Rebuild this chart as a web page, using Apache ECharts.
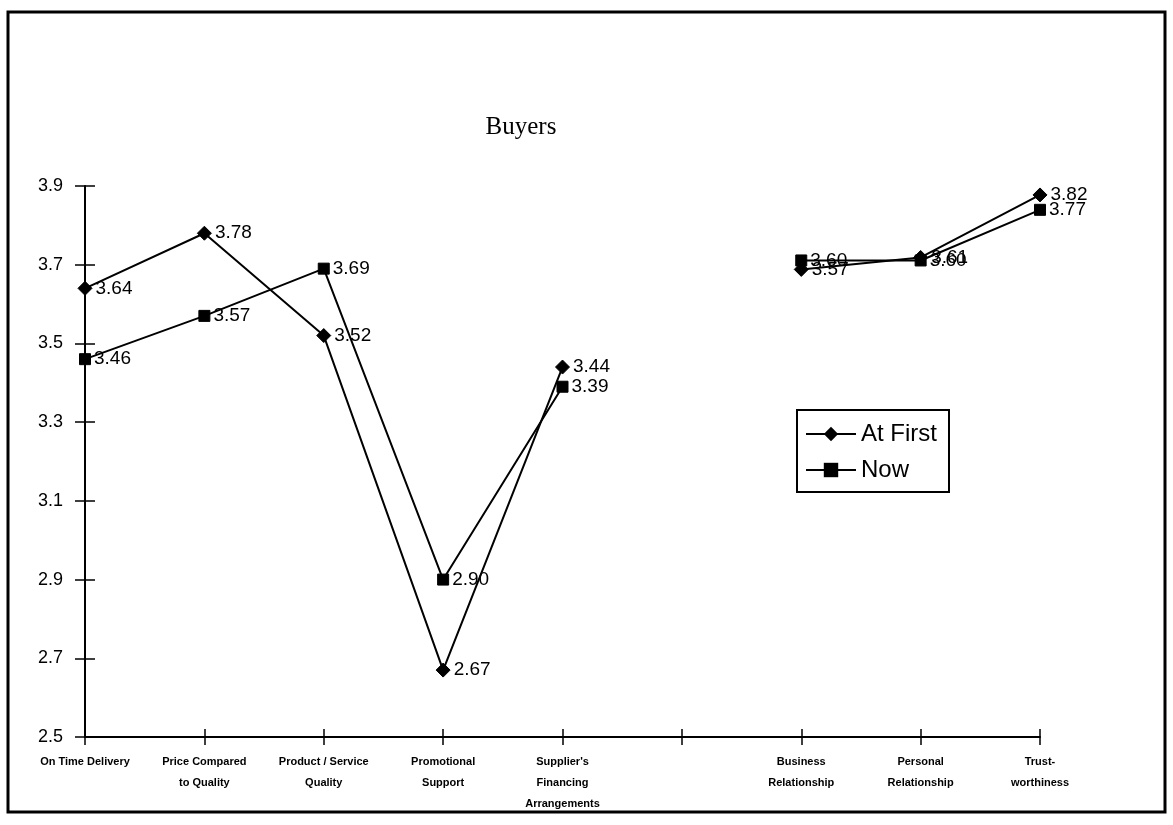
<!DOCTYPE html>
<html>
<head>
<meta charset="utf-8">
<script src="https://cdn.jsdelivr.net/npm/echarts@6/dist/echarts.min.js"></script>
<style>
  html, body { margin: 0; padding: 0; background: #fff; }
  #buyers-chart { width: 1173px; height: 825px; }
</style>
</head>
<body>
<div id="buyers-chart"></div>
<script>
// categories (the 6th slot is an empty gap between the two groups)
var categories = [
  "On Time Delivery",
  "Price Compared\nto Quality",
  "Product / Service\nQuality",
  "Promotional\nSupport",
  "Supplier's\nFinancing\nArrangements",
  "",
  "Business\nRelationship",
  "Personal\nRelationship",
  "Trust-\nworthiness"
];
// left group (primary axis)
var atFirstLeft = [3.64, 3.78, 3.52, 2.67, 3.44, null, null, null, null];
var nowLeft     = [3.46, 3.57, 3.69, 2.90, 3.39, null, null, null, null];
// right group (plotted on a separate, hidden scale in the original)
var atFirstRight = [null, null, null, null, null, null, 3.57, 3.61, 3.82];
var nowRight     = [null, null, null, null, null, null, 3.60, 3.60, 3.77];
var yTicks = { min: 2.5, max: 3.9, interval: 0.2 };

var chart = echarts.init(document.getElementById("buyers-chart"));

function lineSeries(name, data, symbol, size, yIndex) {
  return {
    name: name,
    type: "line",
    data: data,
    yAxisIndex: yIndex,
    symbol: symbol,
    symbolSize: size,
    connectNulls: false,
    animation: false,
    lineStyle: { color: "#000", width: 2 },
    itemStyle: { color: "#000", borderColor: "#000" },
    label: {
      show: true,
      position: "right",
      distance: 3,
      color: "#000",
      fontSize: 19,
      fontFamily: "Liberation Sans",
      formatter: function (p) { return p.value.toFixed(2); }
    }
  };
}

chart.setOption({
  backgroundColor: "#fff",
  animation: false,
  title: {
    text: "Buyers",
    left: 516,
    top: 110,
    textAlign: "center",
    textStyle: {
      color: "#000",
      fontFamily: "Liberation Serif",
      fontWeight: "normal",
      fontSize: 25
    }
  },
  graphic: [{
    type: "rect",
    shape: { x: 8, y: 12, width: 1157, height: 800 },
    style: { fill: null, stroke: "#000", lineWidth: 3 },
    silent: true
  }],
  legend: {
    data: ["At First", "Now"],
    orient: "vertical",
    left: 797,
    top: 410,
    padding: [12, 12, 10, 8],
    itemGap: 12,
    itemWidth: 50,
    itemHeight: 18,
    borderColor: "#000",
    borderWidth: 2,
    backgroundColor: "#fff",
    textStyle: { color: "#000", fontSize: 24, fontFamily: "Liberation Sans" }
  },
  grid: { left: 85, right: 133, top: 186, bottom: 88 },
  xAxis: [{
    type: "category",
    data: categories,
    boundaryGap: false,
    axisLine: { lineStyle: { color: "#000", width: 2 } },
    axisTick: { show: true, interval: 0, length: 8, lineStyle: { color: "#000", width: 1.5 } },
    axisLabel: {
      interval: 0,
      margin: 14,
      color: "#000",
      fontSize: 11,
      fontWeight: "bold",
      fontFamily: "Liberation Sans",
      lineHeight: 21
    },
    splitLine: { show: false }
  }, {
    type: "category",
    data: categories,
    boundaryGap: false,
    position: "bottom",
    axisLine: { show: false },
    axisTick: { show: true, inside: true, interval: 0, length: 8, lineStyle: { color: "#000", width: 1.5 } },
    axisLabel: { show: false },
    splitLine: { show: false }
  }],
  yAxis: [{
    type: "value",
    min: yTicks.min,
    max: yTicks.max,
    interval: yTicks.interval,
    axisLine: { show: true, lineStyle: { color: "#000", width: 2 } },
    axisTick: { show: true, length: 10, lineStyle: { color: "#000", width: 1.5 } },
    axisLabel: {
      margin: 22,
      color: "#000",
      fontSize: 18,
      fontFamily: "Liberation Sans",
      formatter: function (v) { return v.toFixed(1); }
    },
    splitLine: { show: false }
  }, {
    type: "value",
    min: yTicks.min,
    max: yTicks.max,
    interval: yTicks.interval,
    position: "left",
    axisLine: { show: false },
    axisTick: { show: true, inside: true, length: 10, lineStyle: { color: "#000", width: 1.5 } },
    axisLabel: { show: false },
    splitLine: { show: false }
  }, {
    type: "value",
    min: 2.0,
    max: 3.85,
    show: false,
    splitLine: { show: false }
  }],
  series: [
    lineSeries("At First", atFirstLeft, "diamond", 14, 0),
    lineSeries("Now", nowLeft, "rect", 11, 0),
    lineSeries("At First", atFirstRight, "diamond", 14, 2),
    lineSeries("Now", nowRight, "rect", 11, 2)
  ]
});
</script>
</body>
</html>
